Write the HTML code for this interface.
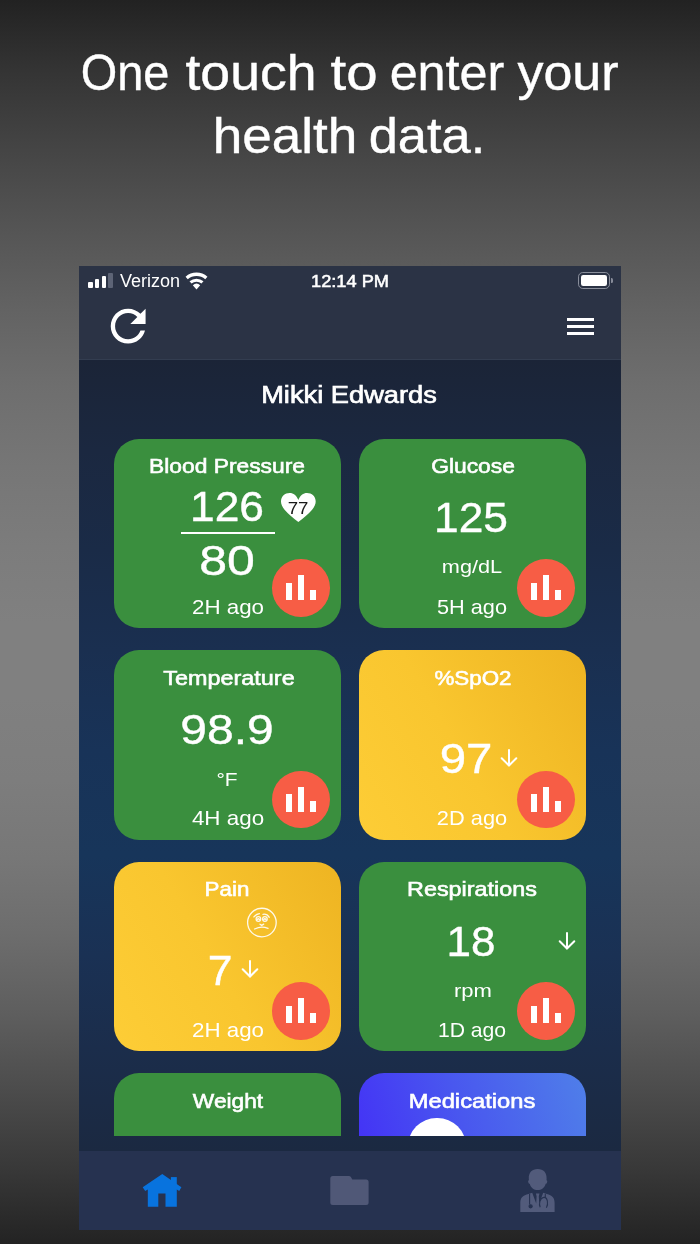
<!DOCTYPE html>
<html lang="en"><head><meta charset="utf-8"><title>One touch to enter your health data</title>
<style>
html,body{margin:0;padding:0}
body{width:700px;height:1244px;position:relative;overflow:hidden;font-family:"Liberation Sans",sans-serif;
background:linear-gradient(180deg,#222222 0%,#353535 6%,#464646 12.5%,#565656 19%,#636363 25%,#6e6e6e 31%,#767676 37.5%,#7c7c7c 44%,#808080 50%,#808080 56%,#7d7d7d 62.7%,#777777 69%,#6d6d6d 75%,#5e5e5e 81.5%,#4c4c4c 87.6%,#383838 94%,#232323 100%);}
.t{position:absolute;white-space:nowrap;line-height:1;}
#phone{position:absolute;left:79px;top:266px;width:542px;height:964px;overflow:hidden;background:#1b2a48;}
#abs{position:absolute;left:-79px;top:-266px;width:700px;height:1244px;}
#hdr{position:absolute;left:79px;top:266px;width:542px;height:93.7px;background:#2b3345;border-bottom:1.6px solid #333d50;box-sizing:border-box}
#content{position:absolute;left:79px;top:359px;width:542px;height:792px;background:linear-gradient(180deg,#1b2437 0%,#1b2840 11.5%,#1a2b47 24%,#1a2f50 36.7%,#183358 49.4%,#17355a 62.6%,#1a3154 75.3%,#1b2d4b 87%,#1b2b46 93.6%,#1b2941 100%);}
#scroll{position:absolute;left:79px;top:359px;width:542px;height:777px;overflow:hidden}
#scroll>div{position:absolute;left:-79px;top:-359px;width:700px;height:1244px}
#tab{position:absolute;left:79px;top:1150.6px;width:542px;height:79.4px;background:#263250;}
.card{position:absolute;border-radius:25px;}
.fab{position:absolute;width:57.7px;height:57.7px;border-radius:50%;background:#f75d45}
.fab i{position:absolute;background:#fff;display:block}
svg{position:absolute;overflow:visible}
</style></head><body>

<div class="t" style="left:125.42px;top:48.47px;font-size:50px;font-weight:400;color:#fff;transform:translateX(-50%) scaleX(0.9378);-webkit-text-stroke:0.4px #fff;">One</div>
<div class="t" style="left:251.05px;top:48.47px;font-size:50px;font-weight:400;color:#fff;transform:translateX(-50%) scaleX(1.0714);-webkit-text-stroke:0.4px #fff;">touch</div>
<div class="t" style="left:353.97px;top:48.47px;font-size:50px;font-weight:400;color:#fff;transform:translateX(-50%) scaleX(1.13);-webkit-text-stroke:0.4px #fff;">to</div>
<div class="t" style="left:446.57px;top:48.47px;font-size:50px;font-weight:400;color:#fff;transform:translateX(-50%) scaleX(1.0068);-webkit-text-stroke:0.4px #fff;">enter</div>
<div class="t" style="left:567.68px;top:48.47px;font-size:50px;font-weight:400;color:#fff;transform:translateX(-50%) scaleX(1.0389);-webkit-text-stroke:0.4px #fff;">your</div>
<div class="t" style="left:284.90px;top:110.98px;font-size:50px;font-weight:400;color:#fff;transform:translateX(-50%) scaleX(1.0618);-webkit-text-stroke:0.4px #fff;">health</div>
<div class="t" style="left:427.38px;top:110.98px;font-size:50px;font-weight:400;color:#fff;transform:translateX(-50%) scaleX(1.049);-webkit-text-stroke:0.4px #fff;">data.</div>
<div id="phone"><div id="abs">
<div id="content"></div>
<div id="scroll"><div>
<div class="card" style="left:114.0px;top:438.5px;width:227.3px;height:189.5px;background:#3a8f3e;"></div>
<div class="card" style="left:358.8px;top:438.5px;width:227.3px;height:189.5px;background:#3a8f3e;"></div>
<div class="card" style="left:114.0px;top:650.0px;width:227.3px;height:189.5px;background:#3a8f3e;"></div>
<div class="card" style="left:358.8px;top:650.0px;width:227.3px;height:189.5px;background:linear-gradient(60deg,#fdcd36 0%,#f9c62f 45%,#eeb422 100%);"></div>
<div class="card" style="left:114.0px;top:861.7px;width:227.3px;height:189.5px;background:linear-gradient(60deg,#fdcd36 0%,#f9c62f 45%,#eeb422 100%);"></div>
<div class="card" style="left:358.8px;top:861.7px;width:227.3px;height:189.5px;background:#3a8f3e;"></div>
<div class="card" style="left:114.0px;top:1073.2px;width:227.3px;height:189.5px;background:#3a8f3e;"></div>
<div class="card" style="left:358.8px;top:1073.2px;width:227.3px;height:189.5px;background:linear-gradient(72deg,#4330f6 10%,#4957ef 52%,#4f7fe9 100%);"></div>
<div class="t" style="left:226.97px;top:455.65px;font-size:20.5px;font-weight:400;color:#fff;transform:translateX(-50%) scaleX(1.1126);-webkit-text-stroke:0.6px #fff;">Blood Pressure</div>
<div class="t" style="left:226.67px;top:485.35px;font-size:43.3px;font-weight:400;color:#fff;transform:translateX(-50%) scaleX(1.0243);-webkit-text-stroke:0.4px #fff;">126</div>
<div style="position:absolute;left:181.4px;top:532.3px;width:93.5px;height:1.5px;background:#fff"></div>
<div class="t" style="left:227.20px;top:538.55px;font-size:43.3px;font-weight:400;color:#fff;transform:translateX(-50%) scaleX(1.1542);-webkit-text-stroke:0.4px #fff;">80</div>
<div class="t" style="left:228.32px;top:596.66px;font-size:20.6px;font-weight:400;color:#fff;transform:translateX(-50%) scaleX(1.0845);">2H ago</div>
<svg style="left:280.7px;top:492.9px" width="34.7" height="29" viewBox="0 0 34.7 29"><path d="M17.35 29 C12.6 25.2 7.6 21.3 3.8 16.9 C1.2 13.9 0 11.3 0 8.5 C0 3.5 3.9 0 8.7 0 C12.4 0 15.6 2.4 17.35 7 C19.1 2.4 22.3 0 26 0 C30.8 0 34.7 3.5 34.7 8.5 C34.7 11.3 33.5 13.9 30.9 16.9 C27.1 21.3 22.1 25.2 17.35 29Z" fill="#fff"/></svg>
<div class="t" style="left:297.52px;top:500.76px;font-size:16.7px;font-weight:400;color:#1a1a1a;transform:translateX(-50%) scaleX(1.1171);">77</div>
<div class="fab" style="left:272.20px;top:559.10px;"><i style="left:13.5px;top:23.75px;width:6.6px;height:17.3px"></i><i style="left:25.8px;top:16.15px;width:6.3px;height:24.9px"></i><i style="left:37.7px;top:30.45px;width:6.3px;height:10.6px"></i></div>
<div class="t" style="left:472.78px;top:455.65px;font-size:20.5px;font-weight:400;color:#fff;transform:translateX(-50%) scaleX(1.1128);-webkit-text-stroke:0.6px #fff;">Glucose</div>
<div class="t" style="left:470.85px;top:496.05px;font-size:43.3px;font-weight:400;color:#fff;transform:translateX(-50%) scaleX(1.0234);-webkit-text-stroke:0.4px #fff;">125</div>
<div class="t" style="left:472.45px;top:557.12px;font-size:19px;font-weight:400;color:#fff;transform:translateX(-50%) scaleX(1.1428);">mg/dL</div>
<div class="t" style="left:471.82px;top:596.66px;font-size:20.6px;font-weight:400;color:#fff;transform:translateX(-50%) scaleX(1.0542);">5H ago</div>
<div class="fab" style="left:517.00px;top:559.10px;"><i style="left:13.5px;top:23.75px;width:6.6px;height:17.3px"></i><i style="left:25.8px;top:16.15px;width:6.3px;height:24.9px"></i><i style="left:37.7px;top:30.45px;width:6.3px;height:10.6px"></i></div>
<div class="t" style="left:228.70px;top:667.95px;font-size:20.5px;font-weight:400;color:#fff;transform:translateX(-50%) scaleX(1.1407);-webkit-text-stroke:0.6px #fff;">Temperature</div>
<div class="t" style="left:227.10px;top:708.05px;font-size:43.3px;font-weight:400;color:#fff;transform:translateX(-50%) scaleX(1.1076);-webkit-text-stroke:0.4px #fff;">98.9</div>
<div class="t" style="left:226.90px;top:769.82px;font-size:19px;font-weight:400;color:#fff;transform:translateX(-50%) scaleX(1.1012);">°F</div>
<div class="t" style="left:227.92px;top:808.46px;font-size:20.6px;font-weight:400;color:#fff;transform:translateX(-50%) scaleX(1.0868);">4H ago</div>
<div class="fab" style="left:272.20px;top:770.60px;"><i style="left:13.5px;top:23.75px;width:6.6px;height:17.3px"></i><i style="left:25.8px;top:16.15px;width:6.3px;height:24.9px"></i><i style="left:37.7px;top:30.45px;width:6.3px;height:10.6px"></i></div>
<div class="t" style="left:473.38px;top:667.95px;font-size:20.5px;font-weight:400;color:#fff;transform:translateX(-50%) scaleX(1.0918);-webkit-text-stroke:0.6px #fff;">%SpO2</div>
<div class="t" style="left:465.97px;top:736.75px;font-size:43.3px;font-weight:400;color:#fff;transform:translateX(-50%) scaleX(1.0946);-webkit-text-stroke:0.4px #fff;">97</div>
<svg class="a" style="left:498.90px;top:748.00px" width="20" height="20" viewBox="-10 -10 20 20"><path d="M0 -8V7.5M-7.3 0.2L0 7.5L7.3 0.2" fill="none" stroke="#fff" stroke-width="2" stroke-linecap="round" stroke-linejoin="miter"/></svg>
<div class="t" style="left:471.95px;top:808.46px;font-size:20.6px;font-weight:400;color:#fff;transform:translateX(-50%) scaleX(1.0584);">2D ago</div>
<div class="fab" style="left:517.00px;top:770.60px;"><i style="left:13.5px;top:23.75px;width:6.6px;height:17.3px"></i><i style="left:25.8px;top:16.15px;width:6.3px;height:24.9px"></i><i style="left:37.7px;top:30.45px;width:6.3px;height:10.6px"></i></div>
<div class="t" style="left:226.97px;top:879.05px;font-size:20.5px;font-weight:400;color:#fff;transform:translateX(-50%) scaleX(1.0911);-webkit-text-stroke:0.6px #fff;">Pain</div>
<svg style="left:244px;top:905px" width="36" height="36" viewBox="244 905 36 36"><g fill="none" stroke="#fff" stroke-opacity="0.9" stroke-width="1.3" stroke-linecap="round"><circle cx="261.9" cy="922.55" r="14.3"/><path d="M253.9 916.9Q256.3 914 259.4 913.7M263 914.3Q267 913.6 269.3 917.3"/><circle cx="258.4" cy="919" r="2.3"/><circle cx="264.9" cy="919" r="2.3"/><path d="M257.2 919.6Q258.4 917.9 259.5 919.6M263.8 919.6Q264.9 917.9 266 919.6"/><path d="M260 924.2L261.7 925.4L263.7 924.1"/><path d="M254.6 929Q261.3 925.6 268 928.4"/></g></svg>
<div class="t" style="left:219.72px;top:948.75px;font-size:43.3px;font-weight:400;color:#fff;transform:translateX(-50%) scaleX(1.0269);-webkit-text-stroke:0.4px #fff;">7</div>
<svg class="a" style="left:240.30px;top:959.40px" width="20" height="20" viewBox="-10 -10 20 20"><path d="M0 -8V7.5M-7.3 0.2L0 7.5L7.3 0.2" fill="none" stroke="#fff" stroke-width="2" stroke-linecap="round" stroke-linejoin="miter"/></svg>
<div class="t" style="left:228.32px;top:1020.46px;font-size:20.6px;font-weight:400;color:#fff;transform:translateX(-50%) scaleX(1.0845);">2H ago</div>
<div class="fab" style="left:272.20px;top:982.30px;"><i style="left:13.5px;top:23.75px;width:6.6px;height:17.3px"></i><i style="left:25.8px;top:16.15px;width:6.3px;height:24.9px"></i><i style="left:37.7px;top:30.45px;width:6.3px;height:10.6px"></i></div>
<div class="t" style="left:471.72px;top:879.05px;font-size:20.5px;font-weight:400;color:#fff;transform:translateX(-50%) scaleX(1.1394);-webkit-text-stroke:0.6px #fff;">Respirations</div>
<div class="t" style="left:471.20px;top:919.55px;font-size:43.3px;font-weight:400;color:#fff;transform:translateX(-50%) scaleX(1.0169);-webkit-text-stroke:0.4px #fff;">18</div>
<svg class="a" style="left:557.40px;top:931.40px" width="20" height="20" viewBox="-10 -10 20 20"><path d="M0 -8V7.5M-7.3 0.2L0 7.5L7.3 0.2" fill="none" stroke="#fff" stroke-width="2" stroke-linecap="round" stroke-linejoin="miter"/></svg>
<div class="t" style="left:472.60px;top:981.12px;font-size:19px;font-weight:400;color:#fff;transform:translateX(-50%) scaleX(1.1604);">rpm</div>
<div class="t" style="left:472.43px;top:1020.46px;font-size:20.6px;font-weight:400;color:#fff;transform:translateX(-50%) scaleX(1.0274);">1D ago</div>
<div class="fab" style="left:517.00px;top:982.30px;"><i style="left:13.5px;top:23.75px;width:6.6px;height:17.3px"></i><i style="left:25.8px;top:16.15px;width:6.3px;height:24.9px"></i><i style="left:37.7px;top:30.45px;width:6.3px;height:10.6px"></i></div>
<div class="t" style="left:227.85px;top:1090.95px;font-size:20.5px;font-weight:400;color:#fff;transform:translateX(-50%) scaleX(1.108);-webkit-text-stroke:0.6px #fff;">Weight</div>
<div class="t" style="left:472.03px;top:1091.45px;font-size:20.5px;font-weight:400;color:#fff;transform:translateX(-50%) scaleX(1.1566);-webkit-text-stroke:0.6px #fff;">Medications</div>
<div style="position:absolute;left:408.4px;top:1117.6px;width:57.7px;height:57.7px;border-radius:50%;background:#fff"></div>
</div></div>
<div id="hdr"></div>
<div style="position:absolute;left:88.2px;top:282.1px;width:4.6px;height:6.1px;background:#fff;border-radius:1px"></div>
<div style="position:absolute;left:94.9px;top:279.4px;width:4.6px;height:8.8px;background:#fff;border-radius:1px"></div>
<div style="position:absolute;left:101.6px;top:276.1px;width:4.6px;height:12.1px;background:#fff;border-radius:1px"></div>
<div style="position:absolute;left:108.2px;top:272.9px;width:4.6px;height:15.3px;background:#5d6476;border-radius:1px"></div>
<div class="t" style="left:149.53px;top:272.99px;font-size:17.5px;font-weight:400;color:#fff;transform:translateX(-50%) scaleX(1.0307);">Verizon</div>
<svg style="left:180px;top:268px" width="32" height="24" viewBox="180 268 32 24"><g fill="none" stroke="#fff"><path stroke-width="3.4" d="M186.66 277.98A15 15 0 0 1 206.34 277.98"/><path stroke-width="3.1" d="M190.53 282.43A9.1 9.1 0 0 1 202.47 282.43"/></g><path d="M196.5 289.4L192.8 285.15A5.6 5.6 0 0 1 200.2 285.15Z" fill="#fff"/></svg>
<div class="t" style="left:350.23px;top:273.99px;font-size:15.6px;font-weight:400;color:#fff;transform:translateX(-50%) scaleX(1.1674);-webkit-text-stroke:0.5px #fff;">12:14 PM</div>
<div style="position:absolute;left:578.1px;top:272.2px;width:32.2px;height:16.8px;box-sizing:border-box;border:1.7px solid #8a8f9c;border-radius:4.8px"></div>
<div style="position:absolute;left:581.1px;top:275px;width:26.4px;height:11.2px;background:#fff;border-radius:2.2px"></div>
<div style="position:absolute;left:611.2px;top:278px;width:1.8px;height:5px;background:#878c9a;border-radius:0 1.5px 1.5px 0"></div>
<svg style="left:102.1px;top:300.1px" width="52.3" height="52.3" viewBox="0 0 24 24"><path fill="#fff" d="M17.65 6.35C16.2 4.9 14.21 4 12 4c-4.42 0-7.99 3.58-7.99 8s3.57 8 7.99 8c3.73 0 6.84-2.55 7.73-6h-2.08c-.82 2.33-3.04 4-5.65 4-3.31 0-6-2.69-6-6s2.69-6 6-6c1.66 0 3.14.69 4.22 1.78L13 11h7V4l-2.35 2.350z"/></svg>
<div style="position:absolute;left:567.1px;top:317.5px;width:26.6px;height:3px;background:#fff"></div>
<div style="position:absolute;left:567.1px;top:324.9px;width:26.6px;height:3px;background:#fff"></div>
<div style="position:absolute;left:567.1px;top:332.3px;width:26.6px;height:3px;background:#fff"></div>
<div class="t" style="left:348.55px;top:383.88px;font-size:23.3px;font-weight:400;color:#fff;transform:translateX(-50%) scaleX(1.1697);-webkit-text-stroke:0.65px #fff;">Mikki Edwards</div>
<div id="tab"></div>
<svg style="left:140px;top:1170px" width="44" height="40" viewBox="140 1170 44 40"><g fill="#0873de"><path d="M162.3 1174.1 L181.4 1187.3 L179.2 1190.9 L176.8 1189.4 L176.8 1206.8 L165.5 1206.8 L165.5 1193.4 L158.3 1193.4 L158.3 1206.8 L147.8 1206.8 L147.8 1189.4 L145.2 1190.9 L142.7 1187.3 Z"/><rect x="170.9" y="1177.1" width="5.9" height="8"/></g></svg>
<svg style="left:328px;top:1174px" width="44" height="34" viewBox="328 1174 44 34"><path fill="#505877" d="M332.8 1176.1 H348.8 Q350.3 1176.1 351 1177.3 L352.3 1179.4 H366.1 Q368.6 1179.4 368.6 1181.9 V1202.4 Q368.6 1204.9 366.1 1204.9 H332.8 Q330.3 1204.9 330.3 1202.4 V1178.6 Q330.3 1176.1 332.8 1176.1Z"/></svg>
<svg style="left:518px;top:1166px" width="40" height="48" viewBox="518 1166 40 48"><g fill="#525b7b"><path d="M537.7 1168.9 C543.5 1168.9 546.9 1172.6 546.6 1178.6 L546.5 1180.2 C547.3 1180.4 547.4 1181.3 547.1 1182.2 C546.8 1183.2 546.3 1183.7 545.7 1183.7 C544.6 1187.6 541.4 1190.1 537.7 1190.1 C534 1190.1 530.8 1187.6 529.7 1183.7 C529.1 1183.7 528.6 1183.2 528.3 1182.2 C528 1181.3 528.1 1180.4 528.9 1180.2 L528.8 1178.6 C528.5 1172.6 531.9 1168.9 537.7 1168.9Z"/><path d="M520.3 1212.1 L520.3 1203 C520.3 1197.5 523 1195.2 528.5 1194 L532.2 1192.8 L536.2 1203.5 L536.6 1196.2 L535.9 1193.6 L539.5 1193.6 L538.8 1196.2 L539.2 1203.5 L543.2 1192.8 L546.9 1194 C552 1195.2 554.6 1197.5 554.6 1203 L554.6 1212.1 Z"/></g><g fill="none" stroke="#263250" stroke-width="1.1"><path d="M529.6 1193.8 V1204.5"/><circle cx="530.6" cy="1206.3" r="1.6" fill="#263250"/><path d="M545.3 1193.8 V1197 M540.2 1207.3 C538.5 1204 540 1198 543.8 1197.4 C547.6 1196.8 548.6 1203.5 546.4 1207.8"/></g></svg>
</div></div>
</body></html>
